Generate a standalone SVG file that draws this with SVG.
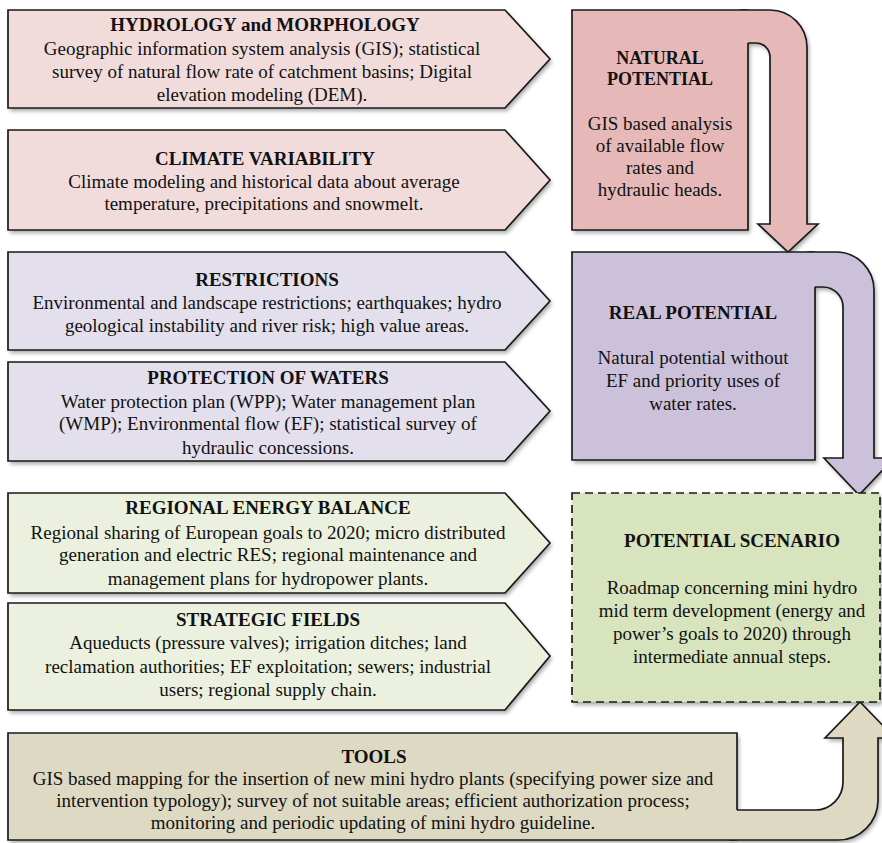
<svg xmlns="http://www.w3.org/2000/svg" width="882" height="843" viewBox="0 0 882 843">
<style>
text{font-family:"Liberation Serif","Times New Roman",serif;font-size:19px;fill:#111;text-anchor:middle}
.t{font-weight:bold}
.ln{fill:none;stroke:#1a1a1a;stroke-width:1.7;stroke-linejoin:miter}
.nf{stroke:none}
.sh{fill:#000;opacity:.35;filter:url(#blur)}
.pink2{fill:#E6B9B8}
.lav2{fill:#CCC1DA}
.tan{fill:#DDD9C3}
</style>
<defs>
<filter id="blur" x="-5%" y="-5%" width="110%" height="110%"><feGaussianBlur stdDeviation="2"/></filter>
</defs>
<rect width="882" height="843" fill="#fff"/>
<g id="shadows" transform="translate(2,3)">
<path class="sh" d="M8,10H505L550,59L505,108H8Z"/>
<path class="sh" d="M8,130H505L550,180L505,230H8Z"/>
<path class="sh" d="M8,252H505L550,301L505,350H8Z"/>
<path class="sh" d="M8,362H505L550,411L505,461H8Z"/>
<path class="sh" d="M8,493H505L550,543L505,593H8Z"/>
<path class="sh" d="M8,603H505L550,656L505,710H8Z"/>
<path class="sh" d="M572,10H770A37,37 0 0 1 807,47V224H818L788,252L758,224H770V57A14,14 0 0 0 756,43H748V230H572Z"/>
<path class="sh" d="M572,252H836A38,38 0 0 1 874,290V458H894L859,495L824,458H843V307A20,20 0 0 0 823,287H815V460H572Z"/>
<path class="sh" d="M572,493H880V702H572Z"/>
<path class="sh" d="M8,733H737V810H815A28,28 0 0 0 843,782V738H825L860,702L895,738H878V800A40,40 0 0 1 838,840H8Z"/>
</g>
<g id="connectors">
<g id="c-natural-real">
<path class="pink2" d="M740,10H770A37,37 0 0 1 807,47V224H818L788,252L758,224H770V57A14,14 0 0 0 756,43H740Z"/>
<path class="ln" d="M740,10H770A37,37 0 0 1 807,47V224H818L788,252L758,224H770V57A14,14 0 0 0 756,43H748"/>
</g>
<g id="c-real-scenario">
<path class="lav2" d="M807,252H836A38,38 0 0 1 874,290V458H894L859,495L824,458H843V307A20,20 0 0 0 823,287H807Z"/>
<path class="ln" d="M807,252H836A38,38 0 0 1 874,290V458H894L859,495L824,458H843V307A20,20 0 0 0 823,287H815"/>
</g>
<g id="c-tools-scenario">
<path class="tan" d="M729,810H815A28,28 0 0 0 843,782V738H825L860,702L895,738H878V800A40,40 0 0 1 838,840H729Z"/>
<path class="ln" d="M737,810H815A28,28 0 0 0 843,782V738H825L860,702L895,738H878V800A40,40 0 0 1 838,840H729"/>
</g>
</g>
<g id="hydrology">
<path class="ln" style="fill:#F2DCDB" d="M8,10H505L550,59L505,108H8Z"/>
<text class="t" x="265" y="31">HYDROLOGY and MORPHOLOGY</text>
<text x="262" y="55">Geographic information system analysis (GIS); statistical</text>
<text x="262" y="78">survey of natural flow rate of catchment basins; Digital</text>
<text x="262" y="101">elevation modeling (DEM).</text>
</g>
<g id="climate">
<path class="ln" style="fill:#F2DCDB" d="M8,130H505L550,180L505,230H8Z"/>
<text class="t" x="265" y="165">CLIMATE VARIABILITY</text>
<text x="264" y="188">Climate modeling and historical data about average</text>
<text x="264" y="210">temperature, precipitations and snowmelt.</text>
</g>
<g id="restrictions">
<path class="ln" style="fill:#E4DFEC" d="M8,252H505L550,301L505,350H8Z"/>
<text class="t" x="267" y="286">RESTRICTIONS</text>
<text x="267" y="309">Environmental and landscape restrictions; earthquakes; hydro</text>
<text x="267" y="332">geological instability and river risk; high value areas.</text>
</g>
<g id="protection">
<path class="ln" style="fill:#E4DFEC" d="M8,362H505L550,411L505,461H8Z"/>
<text class="t" x="268" y="384">PROTECTION OF WATERS</text>
<text x="268" y="408">Water  protection plan (WPP); Water management plan</text>
<text x="268" y="430">(WMP); Environmental flow (EF); statistical survey of</text>
<text x="268" y="454">hydraulic concessions.</text>
</g>
<g id="regional">
<path class="ln" style="fill:#EBF1DE" d="M8,493H505L550,543L505,593H8Z"/>
<text class="t" x="268" y="514">REGIONAL ENERGY BALANCE</text>
<text x="268" y="539">Regional sharing of European goals to 2020; micro distributed</text>
<text x="268" y="561">generation and electric RES; regional maintenance and</text>
<text x="268" y="585">management plans for hydropower plants.</text>
</g>
<g id="strategic">
<path class="ln" style="fill:#EBF1DE" d="M8,603H505L550,656L505,710H8Z"/>
<text class="t" x="268" y="626">STRATEGIC FIELDS</text>
<text x="268" y="649">Aqueducts (pressure valves); irrigation ditches; land</text>
<text x="268" y="673">reclamation authorities; EF exploitation; sewers; industrial</text>
<text x="268" y="696">users; regional supply chain.</text>
</g>
<g id="natural">
<rect class="nf" x="572" y="10" width="176" height="220" style="fill:#E6B9B8"/>
<path class="ln" d="M748,43V230H572V10H748"/>
<text class="t" x="660" y="64" style="font-size:18px">NATURAL</text>
<text class="t" x="660" y="85" style="font-size:18px">POTENTIAL</text>
<text x="660" y="130">GIS based analysis</text>
<text x="660" y="152">of available flow</text>
<text x="660" y="174">rates and</text>
<text x="660" y="196">hydraulic heads.</text>
</g>
<g id="real">
<rect class="nf" x="572" y="252" width="243" height="208" style="fill:#CCC1DA"/>
<path class="ln" d="M815,287V460H572V252H815"/>
<text class="t" x="693" y="319">REAL POTENTIAL</text>
<text x="693" y="364">Natural potential without</text>
<text x="693" y="387">EF and priority uses of</text>
<text x="693" y="410">water rates.</text>
</g>
<g id="scenario">
<rect x="572" y="493" width="308" height="209" style="fill:#D7E4BD;stroke:#1a1a1a;stroke-width:1.7;stroke-dasharray:8,5"/>
<text class="t" x="732" y="547">POTENTIAL SCENARIO</text>
<text x="732" y="594">Roadmap concerning mini hydro</text>
<text x="732" y="617">mid term development (energy and</text>
<text x="732" y="640">power’s goals to 2020) through</text>
<text x="732" y="663">intermediate annual steps.</text>
</g>
<g id="tools">
<rect class="nf" x="8" y="733" width="729" height="107" style="fill:#DDD9C3"/>
<path class="ln" d="M737,810V733H8V840H737"/>
<text class="t" x="374" y="763">TOOLS</text>
<text x="373" y="785">GIS based mapping for the insertion of new mini hydro plants (specifying power size and</text>
<text x="373" y="807">intervention typology); survey of not suitable areas; efficient authorization process;</text>
<text x="373" y="829">monitoring and  periodic updating of  mini hydro guideline.</text>
</g>
</svg>
